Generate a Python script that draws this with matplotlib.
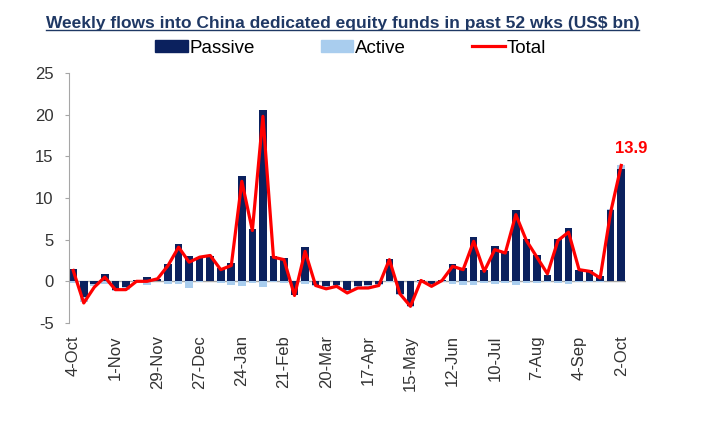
import matplotlib
matplotlib.use("Agg")
import matplotlib.pyplot as plt
from matplotlib.patches import Patch
from matplotlib.lines import Line2D

plt.rcParams["font.family"] = ["Liberation Sans", "DejaVu Sans"]
plt.rcParams["axes.unicode_minus"] = False

# weekly flows (US$ bn), 4-Oct .. 2-Oct
passive = [1.5, -1.9, -0.3, 0.9, -1.0, -0.7, 0.2, 0.5, 0.3, 2.1,
           4.5, 3.0, 2.9, 3.0, 1.6, 2.2, 12.6, 6.3, 20.6, 3.0,
           2.8, -1.6, 4.1, -0.4, -0.6, -0.5, -1.0, -0.6, -0.4, -0.3,
           2.7, -1.5, -3.0, 0.1, -0.3, 0.1, 2.1, 1.6, 5.3, 1.3,
           4.2, 3.6, 8.5, 5.1, 3.2, 0.7, 5.1, 6.4, 1.4, 1.3,
           0.6, 8.5, 13.5]
active = [-0.2, -0.6, -0.3, -0.3, -0.2, -0.3, -0.1, -0.4, 0.0, -0.3,
          -0.3, -0.8, -0.1, 0.0, -0.2, -0.4, -0.6, -0.2, -0.7, -0.1,
          -0.2, -0.1, -0.3, -0.2, -0.3, -0.2, -0.3, -0.2, -0.4, -0.2,
          -0.1, -0.1, -0.1, -0.2, -0.2, -0.1, -0.3, -0.4, -0.4, -0.2,
          -0.3, -0.2, -0.4, -0.2, -0.2, -0.1, -0.2, -0.3, -0.1, -0.1,
          -0.1, 0.2, 0.4]
total = [1.3, -2.6, -0.7, 0.5, -1.0, -1.0, 0.0, 0.0, 0.3, 1.9,
         4.1, 2.3, 2.9, 3.1, 1.4, 1.9, 12.0, 6.1, 19.8, 2.9,
         2.6, -1.7, 3.6, -0.5, -0.9, -0.6, -1.4, -0.8, -0.8, -0.5,
         2.6, -1.5, -3.0, 0.1, -0.6, 0.1, 1.8, 1.4, 4.8, 1.2,
         3.8, 3.4, 8.0, 4.9, 2.9, 0.9, 4.9, 5.9, 1.4, 1.2,
         0.4, 8.3, 13.9]
tick_labels = ["4-Oct", "1-Nov", "29-Nov", "27-Dec", "24-Jan", "21-Feb", "20-Mar",
               "17-Apr", "15-May", "12-Jun", "10-Jul", "7-Aug", "4-Sep", "2-Oct"]

NAVY = "#0b215e"
LIGHT = "#a9cdee"
RED = "#ff0000"
GREY = "#a6a6a6"
TXT = "#333333"

fig = plt.figure(figsize=(7.15, 4.41), dpi=100)
ax = fig.add_axes([0.0965, 0.2676, 0.7797, 0.5669])

x = list(range(len(passive)))
ax.bar(x, passive, width=0.72, color=NAVY, zorder=2)
# positive active on top of a positive passive bar, negatives hang below zero
bottoms = [p if (p * a > 0) else 0 for p, a in zip(passive, active)]
ax.bar(x, active, bottom=bottoms, width=0.72, color=LIGHT, zorder=2)
ax.plot(x, total, color=RED, linewidth=2.3, zorder=3, solid_joinstyle="round")
ax.axhline(0, color=GREY, linewidth=1, zorder=1)

ax.annotate("13.9", (x[-1], total[-1]), xytext=(7, 7), textcoords="offset points",
            ha="center", va="bottom", color=RED, fontsize=12, fontweight="bold")

ax.set_xlim(-0.4, 52.5)
ax.set_ylim(-5, 25)
ax.set_yticks(range(-5, 26, 5))
ax.set_xticks(x[::4])
ax.set_xticklabels(tick_labels, rotation=90)

for s in ["top", "right", "bottom"]:
    ax.spines[s].set_visible(False)
ax.spines["left"].set_color(GREY)
ax.tick_params(axis="y", length=3, color=GREY, pad=8, labelsize=12, labelcolor=TXT)
ax.tick_params(axis="x", length=0, pad=9, labelsize=12, labelcolor=TXT)

handles = [Patch(color=NAVY), Patch(color=LIGHT), Line2D([], [], color=RED, linewidth=2.3)]
fig.legend(handles, ["Passive", "Active", "Total"], loc="center", ncol=3,
           bbox_to_anchor=(0.49, 0.891), frameon=False, fontsize=13.5,
           handlelength=1.75, handleheight=0.55, handletextpad=0.1, columnspacing=3.5)

title = fig.text(0.479, 0.946, "Weekly flows into China dedicated equity funds in past 52 wks (US$ bn)",
                 ha="center", va="center", fontsize=12.5, fontweight="bold", color="#1f3864")
fig.canvas.draw()
bb = title.get_window_extent().transformed(fig.transFigure.inverted())
fig.add_artist(Line2D([bb.x0, bb.x1], [bb.y0 + 0.002, bb.y0 + 0.002], color="#1f3864",
                      linewidth=1, transform=fig.transFigure))

fig.savefig("out.png", dpi=100)
